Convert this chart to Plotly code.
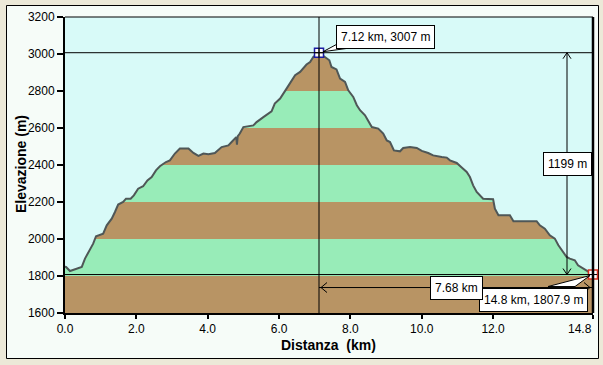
import plotly.graph_objects as go

# ---- data ----
dist_km = [0.00, 0.03, 0.14, 0.28, 0.37, 0.47, 0.56, 0.70, 0.79, 0.87, 1.07, 1.17, 1.31, 1.40,
           1.49, 1.63, 1.71, 1.84, 1.93, 2.05, 2.19, 2.31, 2.43, 2.55, 2.66, 2.83, 2.94, 3.08,
           3.22, 3.46, 3.60, 3.74, 3.88, 4.02, 4.20, 4.39, 4.58, 4.67, 4.80, 4.82, 4.84, 4.90,
           5.00, 5.28, 5.37, 5.56, 5.79, 5.88, 6.03, 6.21, 6.35, 6.45, 6.59, 6.68, 6.77, 6.87,
           6.96, 7.12, 7.29, 7.41, 7.47, 7.61, 7.71, 7.85, 7.94, 8.08, 8.18, 8.27, 8.41, 8.50,
           8.60, 8.78, 8.92, 9.02, 9.11, 9.22, 9.39, 9.48, 9.67, 9.86, 10.00, 10.18, 10.32,
           10.56, 10.70, 10.79, 10.98, 11.12, 11.26, 11.35, 11.44, 11.54, 11.72, 12.00, 12.05,
           12.15, 12.47, 12.57, 12.85, 12.94, 13.22, 13.31, 13.45, 13.59, 13.73, 13.83, 13.97,
           14.06, 14.15, 14.29, 14.38, 14.52, 14.61, 14.75, 14.80]
elev_m = [1850, 1849, 1827, 1838, 1842, 1849, 1894, 1939, 1975, 2015, 2029, 2074, 2110, 2146,
          2186, 2200, 2218, 2218, 2236, 2272, 2285, 2317, 2335, 2371, 2393, 2416, 2425, 2462,
          2489, 2489, 2465, 2449, 2462, 2458, 2465, 2497, 2506, 2524, 2551, 2510, 2555, 2570,
          2605, 2614, 2632, 2659, 2690, 2732, 2759, 2813, 2858, 2885, 2903, 2921, 2943, 2957,
          2984, 3007, 2984, 2966, 2930, 2917, 2867, 2849, 2804, 2768, 2723, 2696, 2669, 2642,
          2605, 2597, 2570, 2533, 2524, 2479, 2474, 2492, 2497, 2492, 2476, 2465, 2452,
          2443, 2440, 2425, 2411, 2386, 2362, 2335, 2290, 2254, 2218, 2215, 2164,
          2128, 2128, 2096, 2096, 2092, 2096, 2074, 2056, 2020, 2002, 1966, 1930,
          1903, 1894, 1885, 1858, 1840, 1831, 1813, 1807.9]

x_tick_vals = [0, 2, 4, 6, 8, 10, 12, 14.8]
x_tick_text = ["0.0", "2.0", "4.0", "6.0", "8.0", "10.0", "12.0", "14.8"]
y_tick_vals = [1600, 1800, 2000, 2200, 2400, 2600, 2800, 3000, 3200]
band_edges = [1600, 1800, 2000, 2200, 2400, 2600, 2800, 3000, 3200]

x_title = "Distanza\u00a0 (km)"
y_title = "Elevazione (m)"

# ---- styles ----
FONT = "Liberation Sans, Arial, sans-serif"
OUTER_BG = "#ECE9D8"
PANEL_BG = "#F6FCF8"
SKY = "#D8FAF8"
BROWN = "#B89464"
GREEN = "#98ECB8"
LINE = "#4F5757"

x_min, x_max = 0, 14.8
y_min, y_max = 1600, 3200

peak_i = max(range(len(elev_m)), key=lambda i: elev_m[i])
peak_x, peak_y = dist_km[peak_i], elev_m[peak_i]
end_x, end_y = dist_km[-1], elev_m[-1]

fig = go.Figure()

# hidden base for fill
fig.add_trace(go.Scatter(x=dist_km, y=elev_m, mode="lines", line=dict(width=0),
                         hoverinfo="skip", showlegend=False))
# sky above profile
fig.add_trace(go.Scatter(x=dist_km, y=[y_max] * len(dist_km), mode="lines",
                         line=dict(width=0), fill="tonexty", fillcolor=SKY,
                         hoverinfo="skip", showlegend=False))
# profile line
fig.add_trace(go.Scatter(x=dist_km, y=elev_m, mode="lines",
                         line=dict(color=LINE, width=2), showlegend=False))

shapes = []
# outer white panel
shapes.append(dict(type="rect", xref="paper", yref="paper",
                   x0=(6.5 - 65) / 528, x1=(598.5 - 65) / 528,
                   y0=(313 - 358.5) / 296, y1=(313 - 5.5) / 296,
                   fillcolor=PANEL_BG, line=dict(color="black", width=1), layer="below"))
# plot background
shapes.append(dict(type="rect", xref="x", yref="y", x0=x_min, x1=x_max, y0=y_min, y1=y_max,
                   fillcolor=SKY, line=dict(width=0), layer="below"))
# elevation bands
for i in range(len(band_edges) - 1):
    shapes.append(dict(type="rect", xref="x", yref="y", x0=x_min, x1=x_max,
                       y0=band_edges[i], y1=band_edges[i + 1],
                       fillcolor=BROWN if i % 2 == 0 else GREEN,
                       line=dict(width=0), layer="below"))

# reference lines
shapes.append(dict(type="line", xref="x", yref="y", x0=peak_x, x1=peak_x, y0=y_min, y1=y_max,
                   line=dict(color="black", width=1)))
shapes.append(dict(type="line", xref="x", yref="y", x0=x_min, x1=x_max, y0=peak_y, y1=peak_y,
                   line=dict(color="black", width=1)))
shapes.append(dict(type="line", xref="x", yref="y", x0=x_min, x1=x_max, y0=end_y, y1=end_y,
                   line=dict(color="black", width=1)))

# vertical dimension arrow
shapes.append(dict(type="line", xref="x", yref="y", xsizemode="pixel", xanchor=end_x,
                   x0=-26, x1=-26, y0=end_y, y1=peak_y, line=dict(color="black", width=1)))
shapes.append(dict(type="path", xref="x", yref="y", xsizemode="pixel", ysizemode="pixel",
                   xanchor=end_x, yanchor=peak_y, path="M -30,-6 L -26,0 L -22,-6",
                   line=dict(color="black", width=1)))
shapes.append(dict(type="path", xref="x", yref="y", xsizemode="pixel", ysizemode="pixel",
                   xanchor=end_x, yanchor=end_y, path="M -30,6 L -26,0 L -22,6",
                   line=dict(color="black", width=1)))
# horizontal dimension arrow
shapes.append(dict(type="line", xref="x", yref="y", ysizemode="pixel", yanchor=end_y,
                   x0=peak_x, x1=end_x, y0=-13, y1=-13, line=dict(color="black", width=1)))
shapes.append(dict(type="path", xref="x", yref="y", xsizemode="pixel", ysizemode="pixel",
                   xanchor=peak_x, yanchor=end_y, path="M 8,-8 L 2,-13 L 8,-18",
                   line=dict(color="black", width=1)))
shapes.append(dict(type="path", xref="x", yref="y", xsizemode="pixel", ysizemode="pixel",
                   xanchor=end_x, yanchor=end_y, path="M -9,-8 L -3,-13 L -9,-18",
                   line=dict(color="black", width=1)))
# callout wedges
shapes.append(dict(type="path", xref="x", yref="y", xsizemode="pixel", ysizemode="pixel",
                   xanchor=peak_x, yanchor=peak_y, path="M 4,1 L 17,8 L 33,5 Z",
                   fillcolor="white", line=dict(color="black", width=1)))
shapes.append(dict(type="path", xref="x", yref="y", xsizemode="pixel", ysizemode="pixel",
                   xanchor=end_x, yanchor=end_y, path="M -3,-1 L -45,-12 L -18,-12 Z",
                   fillcolor="white", line=dict(color="black", width=1)))
# frame: right thick, top thin
shapes.append(dict(type="line", xref="paper", yref="paper", x0=1, x1=1, y0=0, y1=1,
                   line=dict(color="black", width=2.5)))
shapes.append(dict(type="line", xref="paper", yref="paper", x0=0, x1=1, y0=1, y1=1,
                   line=dict(color="black", width=1)))

# point markers
fig.add_trace(go.Scatter(x=[peak_x], y=[peak_y], mode="markers", cliponaxis=False,
                         marker=dict(symbol="square", size=9, color="white",
                                     line=dict(color="#1C1CA0", width=1.5)),
                         showlegend=False))
fig.add_trace(go.Scatter(x=[end_x], y=[end_y], mode="markers", cliponaxis=False,
                         marker=dict(symbol="square", size=9, color="white",
                                     line=dict(color="#D83020", width=1.5)),
                         showlegend=False))
fig.add_trace(go.Scatter(x=[peak_x, end_x], y=[peak_y, end_y], mode="markers", cliponaxis=False,
                         marker=dict(symbol="cross-thin", size=6,
                                     line=dict(color="black", width=1)),
                         showlegend=False))

box = dict(font=dict(family=FONT, size=12, color="black"), bgcolor="white",
           bordercolor="black", borderwidth=1, borderpad=4, showarrow=False)
annotations = [
    dict(x=peak_x, y=peak_y, xref="x", yref="y", xshift=66, yshift=16,
         text=f"{peak_x:.2f} km, {peak_y:.0f} m", **box),
    dict(x=end_x, y=(peak_y + end_y) / 2, xref="x", yref="y", xshift=-26,
         text=f"{peak_y - end_y:.0f} m", **box),
    dict(x=end_x, y=end_y, xref="x", yref="y", xshift=-60, yshift=-25,
         text=f"{end_x:.1f} km, {end_y:.1f} m", **box),
    dict(x=(peak_x + end_x) / 2, y=end_y, xref="x", yref="y", yshift=-13,
         text=f"{end_x - peak_x:.2f} km", **box),
    dict(x=(328.5 - 65) / 528, y=(313 - 345) / 296, xref="paper", yref="paper",
         text=f"<b>{x_title}</b>", showarrow=False, yanchor="middle",
         font=dict(family=FONT, size=14, color="black")),
    dict(x=(21 - 65) / 528, y=(313 - 164) / 296, xref="paper", yref="paper",
         text=f"<b>{y_title}</b>", showarrow=False, textangle=-90, xanchor="center",
         yanchor="middle", font=dict(family=FONT, size=14, color="black")),
    # last x tick label, right-aligned on its tick as in the reference
    dict(x=x_tick_vals[-1], xref="x", y=(313 - 328.5) / 296, yref="paper",
         text=x_tick_text[-1], showarrow=False, xanchor="right", yanchor="middle",
         xshift=1, font=dict(family=FONT, size=12, color="black")),
]

fig.update_layout(
    width=603, height=365,
    margin=dict(l=65, r=10, t=17, b=52, autoexpand=False),
    paper_bgcolor=OUTER_BG, plot_bgcolor=SKY,
    font=dict(family=FONT, size=12, color="black"),
    shapes=shapes, annotations=annotations,
    showlegend=False, hovermode=False,
    xaxis=dict(range=[x_min, x_max], tickvals=x_tick_vals,
               ticktext=x_tick_text[:-1] + [""],
               showgrid=False, zeroline=False, showline=True, linecolor="black", linewidth=2,
               ticks="outside", ticklen=4, tickwidth=2, tickcolor="black", fixedrange=True,
               ticklabeloverflow="allow", automargin=False,
               tickfont=dict(family=FONT, size=12, color="black")),
    yaxis=dict(range=[y_min, y_max], tickvals=y_tick_vals,
               showgrid=False, zeroline=False, showline=True, linecolor="black", linewidth=2,
               ticks="outside", ticklen=6, tickwidth=2, tickcolor="black", fixedrange=True,
               ticklabeloverflow="allow", automargin=False,
               tickfont=dict(family=FONT, size=12, color="black")),
)

fig.write_html("out.html", config={"displayModeBar": False},
               post_script="document.body.style.margin='0';document.body.style.overflow='hidden';")
